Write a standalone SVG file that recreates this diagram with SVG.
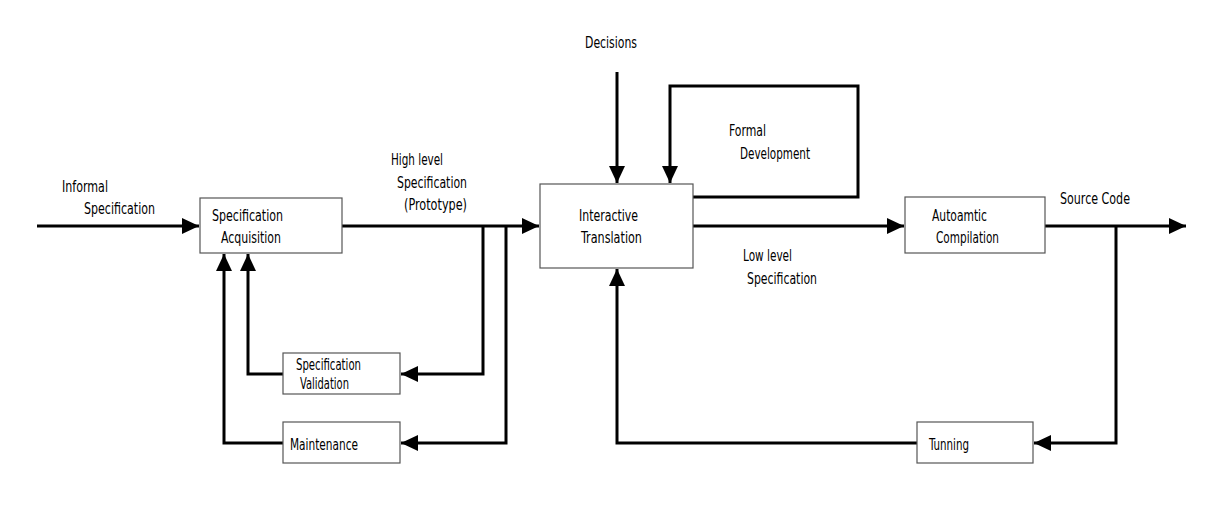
<svg xmlns="http://www.w3.org/2000/svg" width="1220" height="530" viewBox="0 0 1220 530">
<style>
.box{fill:#fff;stroke:#555;stroke-width:1.2}
.c{fill:none;stroke:#000;stroke-width:3}
text{font-family:"DejaVu Sans Condensed","Liberation Sans Narrow","Liberation Sans",sans-serif;font-size:15px;fill:#000}
</style>
<defs>
<marker id="ah" markerUnits="userSpaceOnUse" markerWidth="18" markerHeight="18" viewBox="0 0 18 18" refX="17" refY="9" orient="auto">
<path d="M0,1 L17,9 L0,17 Z" fill="#000"/>
</marker>
</defs>
<rect width="1220" height="530" fill="#fff"/>
<g id="connectors">
<path class="c" d="M37,226 H199" marker-end="url(#ah)"/>
<path class="c" d="M342,226 H539" marker-end="url(#ah)"/>
<path class="c" d="M483,226 V374 H401" marker-end="url(#ah)"/>
<path class="c" d="M506,226 V443 H401" marker-end="url(#ah)"/>
<path class="c" d="M283,374 H248 V254" marker-end="url(#ah)"/>
<path class="c" d="M283,443 H224 V254" marker-end="url(#ah)"/>
<path class="c" d="M617,72 V183" marker-end="url(#ah)"/>
<path class="c" d="M693,197 H858 V86 H670 V183" marker-end="url(#ah)"/>
<path class="c" d="M693,226 H904" marker-end="url(#ah)"/>
<path class="c" d="M1045,226 H1186" marker-end="url(#ah)"/>
<path class="c" d="M1116,226 V443 H1034" marker-end="url(#ah)"/>
<path class="c" d="M917,443 H617 V269" marker-end="url(#ah)"/>
</g>
<g id="label-informal"><text x="62" y="192" textLength="46" lengthAdjust="spacingAndGlyphs">Informal</text><text x="84" y="214" textLength="71" lengthAdjust="spacingAndGlyphs">Specification</text></g>
<g id="label-highlevel"><text x="391" y="165" textLength="52" lengthAdjust="spacingAndGlyphs">High level</text><text x="397" y="188" textLength="70" lengthAdjust="spacingAndGlyphs">Specification</text><text x="404" y="210" textLength="63" lengthAdjust="spacingAndGlyphs">(Prototype)</text></g>
<g id="label-decisions"><text x="585" y="48" textLength="52" lengthAdjust="spacingAndGlyphs">Decisions</text></g>
<g id="label-formal"><text x="729" y="136" textLength="37" lengthAdjust="spacingAndGlyphs">Formal</text><text x="740" y="159" textLength="70" lengthAdjust="spacingAndGlyphs">Development</text></g>
<g id="label-lowlevel"><text x="743" y="261" textLength="49" lengthAdjust="spacingAndGlyphs">Low level</text><text x="747" y="284" textLength="70" lengthAdjust="spacingAndGlyphs">Specification</text></g>
<g id="label-source"><text x="1060" y="204" textLength="70" lengthAdjust="spacingAndGlyphs">Source Code</text></g>
<g id="spec-acquisition"><rect class="box" x="200" y="198" width="142" height="55"/><text x="212" y="221" textLength="71" lengthAdjust="spacingAndGlyphs">Specification</text><text x="221" y="243" textLength="60" lengthAdjust="spacingAndGlyphs">Acquisition</text></g>
<g id="interactive-translation"><rect class="box" x="540" y="184" width="153" height="84"/><text x="579" y="221" textLength="59" lengthAdjust="spacingAndGlyphs">Interactive</text><text x="581" y="243" textLength="61" lengthAdjust="spacingAndGlyphs">Translation</text></g>
<g id="automatic-compilation"><rect class="box" x="905" y="197" width="140" height="56"/><text x="932" y="221" textLength="55" lengthAdjust="spacingAndGlyphs">Autoamtic</text><text x="936" y="243" textLength="63" lengthAdjust="spacingAndGlyphs">Compilation</text></g>
<g id="spec-validation"><rect class="box" x="283" y="353" width="117" height="41"/><text x="296" y="370" textLength="65" lengthAdjust="spacingAndGlyphs">Specification</text><text x="300" y="389" textLength="49" lengthAdjust="spacingAndGlyphs">Validation</text></g>
<g id="maintenance"><rect class="box" x="283" y="422" width="117" height="41"/><text x="290" y="450" textLength="68" lengthAdjust="spacingAndGlyphs">Maintenance</text></g>
<g id="tunning"><rect class="box" x="917" y="422" width="116" height="41"/><text x="929" y="450" textLength="40" lengthAdjust="spacingAndGlyphs">Tunning</text></g>
</svg>
